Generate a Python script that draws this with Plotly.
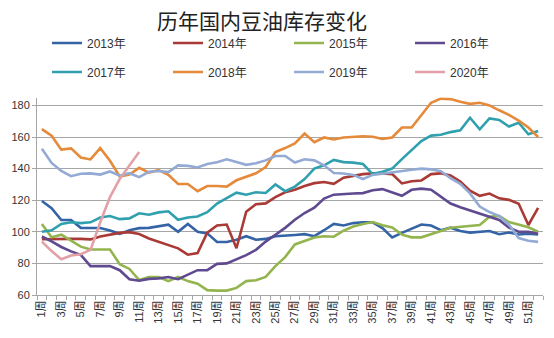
import plotly.graph_objects as go

weeks = list(range(1, 53))
week_labels = [f"{w}周" for w in weeks]
tick_weeks = weeks[::2]
tick_labels = [f"{w}周" for w in tick_weeks]

y2013 = [119.5, 115, 107.5, 107.5, 102.5, 102.4, 102.4, 100.8, 98.7, 101, 102.3, 102.5, 103.7, 104.5, 100, 105,
         100, 99, 93.5, 93.5, 95, 97.2, 95, 95.5, 97.2, 97.8, 98, 98.5, 97.2, 101, 105, 104, 105.5, 106, 106, 102.4,
         96.5, 99.3, 102, 104.6, 104, 101, 102.6, 100.5, 99.5, 100, 100.5, 98.5, 99.5, 98.3, 98.8, 98.3]
y2014 = [95.3, 95.5, 95.5, 95.5, 95.5, 95.2, 97, 98.2, 99.3, 99.8, 98.6, 95.8, 93.6, 91.5, 89.5, 85.5,
         86.6, 99.5, 104, 104.6, 89.6, 112.7, 117.5, 118, 122, 125, 126.6, 129, 130.8, 131.5, 130.4, 134.3, 135.6,
         136.5, 137, 137, 136.5, 130.6, 132, 132.5, 136.5, 137, 135.7, 131.8, 126, 122.8, 124.2, 121.2, 120.2,
         117.8, 104.3, 115.2]
y2015 = [105, 96.5, 98.2, 94.3, 90.6, 88.8, 88.8, 88.8, 79.5, 76.5, 69.5, 71.4, 71.4, 68.8, 71.4, 68.8,
         67.1, 63.1, 62.8, 62.8, 64.5, 68.8, 69.3, 71.4, 78.3, 84, 92, 94.1, 96.4, 97.2, 96.9, 100.7, 103.3, 105,
         106.2, 104.2, 102.7, 98.2, 96.5, 96.5, 98.3, 100.5, 102.6, 103.2, 104, 104.3, 109.5, 110.1, 106.2, 104.5,
         102.9, 100]
y2016 = [97, 94, 90.4, 87.6, 85.4, 78.3, 78.3, 78.3, 75.7, 70, 69, 70.2, 70.5, 71.4, 70, 73,
         75.7, 75.7, 79.7, 80, 82.6, 85.2, 88.6, 93.8, 98.1, 102.5, 107.6, 111.9, 115.3, 121, 123.5, 124, 124.2,
         124.5, 126.3, 127, 124.8, 122.8, 126.6, 127.3, 126.6, 122, 117.9, 115.5, 113.4, 111.2, 109.5, 107.5,
         102.6, 100, 100, 98.8]
y2017 = [100, 101, 105, 106, 105.5, 106, 109, 110, 108, 108.5, 111.7, 110.8, 112.3, 113, 107.6, 109,
         109.7, 112.4, 117.9, 121.5, 124.8, 123.5, 125, 124.6, 130, 125.7, 128.6, 133.4, 140, 142.1, 145.5, 144.1,
         143.8, 142.9, 136.5, 138, 140, 146, 152, 157.4, 160.9, 161.4, 163.1, 164.3, 172.2, 164.9, 171.8, 170.8,
         166.6, 169, 161.7, 163.8]
y2018 = [165, 160.8, 152, 152.8, 147, 145.8, 153, 145, 135, 136.2, 140.5, 137.5, 139, 136, 130.3, 130.3,
         125.7, 129, 129, 128.6, 132.6, 135, 137, 141, 150.5, 153, 155.9, 162.2, 156.7, 159.7, 158.4, 159.7, 160.2,
         160.5, 160.2, 158.8, 159.7, 166, 166, 174, 181.7, 184.3, 184, 182.3, 181, 181.7, 180, 176.9, 174, 170.4,
         166, 160]
y2019 = [152.5, 143.6, 138.5, 135.2, 136.7, 137, 136.2, 138.2, 135.5, 137.1, 134.6, 138, 138.5, 137.8, 142,
         141.7, 140.7, 142.9, 144, 145.9, 144.1, 142.4, 143.4, 145.2, 148, 148, 143.8, 145.9, 145.2, 142.1, 137.2,
         136.9, 136, 133.4, 136, 136.9, 137.6, 138.3, 139.3, 140, 139.5, 138.3, 133.9, 130.4, 124.3, 116, 112.5,
         110, 104.5, 96, 94.3, 93.6]
y2020 = [93.8, 87.8, 82.6, 85, 85.8, 88.6, 106, 122, 133.5, 142, 150.5]

series_names = ["2013年", "2014年", "2015年", "2016年", "2017年", "2018年", "2019年", "2020年"]
series_values = [y2013, y2014, y2015, y2016, y2017, y2018, y2019, y2020]
colors = ["#3464A6", "#A93A36", "#93B44E", "#5F4A90", "#31A0AE", "#E58A3A", "#93AAD4", "#E3A0A6"]

fig = go.Figure()
for i, (name, vals, col) in enumerate(zip(series_names, series_values, colors)):
    fig.add_trace(go.Scatter(
        x=weeks[:len(vals)], y=vals, name=name, mode="lines",
        line=dict(color=col, width=2.6),
        legend="legend" if i < 4 else "legend2",
    ))

legend_common = dict(
    orientation="h", xref="container", yref="container", xanchor="left", yanchor="middle",
    font=dict(family="Liberation Sans, Noto Sans CJK SC", size=12, color="#333333"),
    entrywidth=76, entrywidthmode="pixels", bgcolor="rgba(0,0,0,0)", traceorder="normal",
)

fig.update_layout(
    width=554, height=338,
    margin=dict(l=35, r=11, t=55, b=42.5),
    paper_bgcolor="white", plot_bgcolor="white",
    title=dict(text="历年国内豆油库存变化", x=262 / 554, xanchor="center", y=1 - 22 / 338, yanchor="middle",
               font=dict(family="Noto Sans CJK SC", size=21, color="#222222")),
    legend=dict(x=47 / 554, y=1 - 43 / 338, **legend_common),
    legend2=dict(x=47 / 554, y=1 - 72 / 338, **legend_common),
    showlegend=True,
)

fig.update_xaxes(
    range=[0.5, 52.5], tickmode="array", tickvals=tick_weeks, ticktext=tick_labels,
    tickangle=-90, ticks="", showgrid=False, zeroline=False,
    showline=True, linecolor="#A6A6A6", linewidth=1,
    tickfont=dict(family="Liberation Sans, Noto Sans CJK SC", size=11, color="#333333"),
    minor=dict(ticks="outside", tick0=0.5, dtick=1, ticklen=4, tickcolor="#A6A6A6", showgrid=False),
)
fig.update_yaxes(
    range=[60, 185], tick0=60, dtick=20, tickmode="linear",
    showgrid=True, gridcolor="#A6A6A6", gridwidth=1, zeroline=False,
    showline=True, linecolor="#A6A6A6", linewidth=1,
    ticks="outside", ticklen=4, tickcolor="#A6A6A6",
    tickfont=dict(family="Liberation Sans", size=11, color="#333333"),
)

fig.write_html("out.html")
